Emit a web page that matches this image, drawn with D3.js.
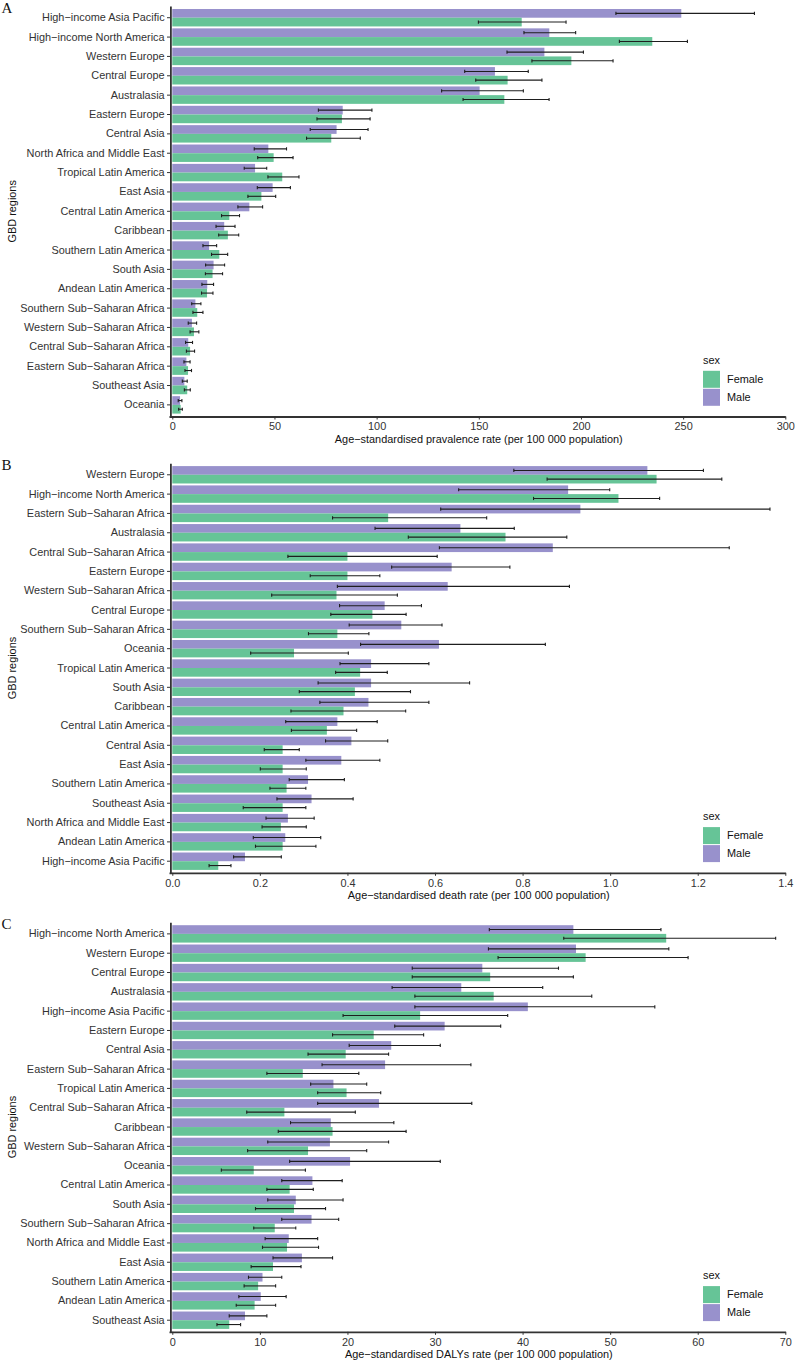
<!DOCTYPE html>
<html><head><meta charset="utf-8">
<script src="https://cdn.jsdelivr.net/npm/d3@7"></script>
<style>
body{margin:0;background:#fff}
svg{display:block;font-family:"Liberation Sans",Arial,Helvetica,sans-serif}
</style>
</head><body>
<svg id="c" width="796" height="1362"></svg>
<script>
const M = "\u2212";
// ---------- Panel A: prevalence ----------
const regionsA = ["High"+M+"income Asia Pacific","High"+M+"income North America","Western Europe","Central Europe","Australasia","Eastern Europe","Central Asia","North Africa and Middle East","Tropical Latin America","East Asia","Central Latin America","Caribbean","Southern Latin America","South Asia","Andean Latin America","Southern Sub"+M+"Saharan Africa","Western Sub"+M+"Saharan Africa","Central Sub"+M+"Saharan Africa","Eastern Sub"+M+"Saharan Africa","Southeast Asia","Oceania"];
// [value, lower, upper]
const maleA = [[249.1,217.1,284.9],[184.5,172.1,197.4],[182.1,163.8,201.2],[157.9,143.1,174.2],[150.4,131.8,171.8],[83.4,71.5,97.7],[80.4,67.5,95.8],[47.0,40.1,55.9],[40.5,35.2,46.2],[49.1,41.6,57.8],[37.7,32.1,44.2],[25.4,21.4,30.7],[18.0,15.0,21.7],[20.2,16.3,25.6],[17.1,14.5,20.2],[11.3,9.5,14.0],[9.6,7.8,11.9],[7.8,6.5,9.9],[6.9,5.7,8.7],[5.9,4.9,7.3],[3.8,2.9,4.7]];
const femaleA = [[171.0,149.8,192.7],[234.9,218.8,252.1],[195.3,176.0,215.7],[164.1,148.5,180.9],[162.5,142.3,184.4],[83.0,70.8,96.8],[77.8,65.7,92.0],[49.6,41.8,59.1],[53.8,46.8,62.0],[43.6,37.0,50.6],[27.9,24.1,32.9],[27.2,22.7,32.5],[23.0,19.2,27.1],[19.7,16.2,24.6],[17.0,14.3,19.9],[12.2,10.1,15.0],[10.6,8.7,13.0],[8.7,6.9,10.9],[7.7,6.2,9.4],[7.3,5.9,8.8],[4.1,3.1,4.9]];
const ticksA = [0,50,100,150,200,250,300];
const titleA = "Age"+M+"standardised pravalence rate (per 100 000 population)";

// ---------- Panel B: deaths ----------
const regionsB = ["Western Europe","High"+M+"income North America","Eastern Sub"+M+"Saharan Africa","Australasia","Central Sub"+M+"Saharan Africa","Eastern Europe","Western Sub"+M+"Saharan Africa","Central Europe","Southern Sub"+M+"Saharan Africa","Oceania","Tropical Latin America","South Asia","Caribbean","Central Latin America","Central Asia","East Asia","Southern Latin America","Southeast Asia","North Africa and Middle East","Andean Latin America","High"+M+"income Asia Pacific"];
const maleB = [[1.085,0.780,1.213],[0.904,0.654,0.999],[0.932,0.613,1.365],[0.658,0.463,0.781],[0.869,0.610,1.272],[0.638,0.501,0.771],[0.629,0.377,0.907],[0.485,0.382,0.569],[0.523,0.404,0.616],[0.609,0.430,0.852],[0.454,0.383,0.586],[0.454,0.333,0.679],[0.448,0.337,0.586],[0.377,0.259,0.468],[0.409,0.350,0.492],[0.386,0.305,0.474],[0.310,0.267,0.393],[0.318,0.239,0.413],[0.264,0.214,0.324],[0.258,0.185,0.339],[0.166,0.140,0.249]];
const femaleB = [[1.106,0.856,1.255],[1.019,0.825,1.113],[0.493,0.366,0.718],[0.761,0.539,0.901],[0.400,0.264,0.605],[0.400,0.315,0.474],[0.375,0.227,0.514],[0.457,0.362,0.534],[0.377,0.311,0.449],[0.278,0.179,0.402],[0.429,0.373,0.491],[0.417,0.290,0.544],[0.391,0.271,0.533],[0.353,0.272,0.421],[0.252,0.210,0.290],[0.252,0.201,0.306],[0.261,0.223,0.305],[0.252,0.162,0.305],[0.248,0.205,0.306],[0.252,0.190,0.328],[0.105,0.084,0.134]];
const ticksB = [0.0,0.2,0.4,0.6,0.8,1.0,1.2,1.4];
const titleB = "Age"+M+"standardised death rate (per 100 000 population)";

// ---------- Panel C: DALYs ----------
const regionsC = ["High"+M+"income North America","Western Europe","Central Europe","Australasia","High"+M+"income Asia Pacific","Eastern Europe","Central Asia","Eastern Sub"+M+"Saharan Africa","Tropical Latin America","Central Sub"+M+"Saharan Africa","Caribbean","Western Sub"+M+"Saharan Africa","Oceania","Central Latin America","South Asia","Southern Sub"+M+"Saharan Africa","North Africa and Middle East","East Asia","Southern Latin America","Andean Latin America","Southeast Asia"];
const maleC = [[45.8,36.2,55.8],[46.1,36.1,56.7],[35.4,27.4,44.1],[33.0,25.1,42.3],[40.6,27.7,55.1],[31.1,25.4,37.5],[25.0,20.2,30.6],[24.3,17.1,34.1],[18.4,15.8,22.2],[23.6,16.6,34.2],[18.1,13.5,25.3],[18.0,10.9,24.7],[20.3,13.4,30.6],[16.0,12.5,19.4],[14.1,10.9,19.5],[15.9,12.5,19.0],[13.3,10.6,16.6],[14.8,11.5,18.3],[10.3,8.7,12.5],[10.1,7.6,13.0],[8.3,6.5,10.8]];
const femaleC = [[56.4,44.7,68.9],[47.2,37.2,58.9],[36.3,27.4,45.8],[36.7,27.7,47.9],[28.3,19.5,38.3],[23.0,18.3,28.7],[19.8,15.5,24.7],[14.9,10.8,21.3],[19.9,16.6,23.8],[12.8,8.5,20.9],[18.3,12.1,26.7],[15.5,8.6,22.2],[9.3,5.6,15.2],[13.4,10.8,16.1],[13.9,9.5,17.5],[11.7,9.3,14.1],[13.1,10.3,16.7],[11.5,9.0,14.7],[9.8,8.2,11.8],[9.4,7.3,11.8],[6.5,5.1,7.8]];
const ticksC = [0,10,20,30,40,50,60,70];
const titleC = "Age"+M+"standardised DALYs rate (per 100 000 population)";

const sexes = ["Male","Female"];
const legendOrder = ["Female","Male"];

// ---------- drawing ----------
const svg = d3.select("#c");
const X0 = 172.3, X1 = 785.3;
const color = d3.scaleOrdinal().domain(["Male","Female"]).range(["#9891CC","#66C497"]);
const FS = "10.9px";

const panels = [
  {letter:"A", regions:regionsA, male:maleA, female:femaleA, ticks:ticksA, domain:[0,300], fmt:d3.format("d"), title:titleA, top:6.1, bottom:416.5},
  {letter:"B", regions:regionsB, male:maleB, female:femaleB, ticks:ticksB, domain:[0,1.4], fmt:d3.format(".1f"), title:titleB, top:463.2, bottom:872.8},
  {letter:"C", regions:regionsC, male:maleC, female:femaleC, ticks:ticksC, domain:[0,70], fmt:d3.format("d"), title:titleC, top:922.3, bottom:1331.8}
];

panels.forEach(cfg => {
  const g = svg.append("g");
  const x = d3.scaleLinear().domain(cfg.domain).range([X0, X1]);
  const y = d3.scaleBand().domain(cfg.regions).range([cfg.top, cfg.bottom]).paddingInner(0.1).paddingOuter(0.15);
  const ys = d3.scaleBand().domain(sexes).range([0, y.bandwidth()]);
  const rows = [];
  cfg.regions.forEach((r,i) => {
    rows.push({r, sex:"Male", v:cfg.male[i]});
    rows.push({r, sex:"Female", v:cfg.female[i]});
  });
  const cy = d => y(d.r) + ys(d.sex) + ys.bandwidth()/2;

  g.append("g").selectAll("rect").data(rows).join("rect")
    .attr("x", x(0)).attr("y", d => y(d.r) + ys(d.sex))
    .attr("width", d => x(d.v[0]) - x(0)).attr("height", ys.bandwidth())
    .attr("fill", d => color(d.sex));

  const eb = g.append("g").attr("stroke", "#1e1e1e").attr("stroke-width", 1.1);
  eb.selectAll("line.h").data(rows).join("line").attr("class","h")
    .attr("x1", d => x(d.v[1])).attr("x2", d => x(d.v[2])).attr("y1", cy).attr("y2", cy);
  eb.selectAll("line.l").data(rows).join("line").attr("class","l")
    .attr("x1", d => x(d.v[1])).attr("x2", d => x(d.v[1])).attr("y1", d => cy(d)-1.6).attr("y2", d => cy(d)+1.6);
  eb.selectAll("line.u").data(rows).join("line").attr("class","u")
    .attr("x1", d => x(d.v[2])).attr("x2", d => x(d.v[2])).attr("y1", d => cy(d)-1.6).attr("y2", d => cy(d)+1.6);

  // y axis
  const ya = g.append("g").attr("transform", `translate(170.4,0)`)
    .call(d3.axisLeft(y).tickSize(3.4).tickSizeOuter(0).tickPadding(2.4));
  // x axis
  const xa = g.append("g").attr("transform", `translate(0,${cfg.bottom})`)
    .call(d3.axisBottom(x).tickValues(cfg.ticks).tickFormat(cfg.fmt).tickSize(3).tickSizeOuter(0).tickPadding(3));
  xa.select(".domain").attr("d", `M169.5,0.5H${X1+0.5}`);
  [ya, xa].forEach(a => {
    a.select(".domain").attr("stroke", "#333").attr("stroke-width", 1.8);
    a.selectAll(".tick line").attr("stroke", "#333").attr("stroke-width", 1);
    a.selectAll(".tick text").attr("fill", "#333").style("font-size", FS).style("font-family", "Liberation Sans, Arial, sans-serif");
  });

  // axis titles
  g.append("text").attr("x", (X0+X1)/2).attr("y", cfg.bottom + 22.5).attr("dy", "0.35em")
    .attr("text-anchor", "middle").style("font-size", FS).attr("fill", "#111").text(cfg.title);
  g.append("text").attr("transform", `translate(11.7,${(cfg.top+cfg.bottom)/2}) rotate(-90)`)
    .attr("dy", "0.35em").attr("text-anchor", "middle").style("font-size", FS).attr("fill", "#111").text("GBD regions");
  // panel letter
  g.append("text").attr("x", 1.5).attr("y", cfg.top + 6.4)
    .style("font-family", "Liberation Serif, Times New Roman, serif").style("font-size", "15px").attr("fill", "#111").text(cfg.letter);

  // legend
  const lg = g.append("g").attr("transform", `translate(703,${cfg.bottom - 56.7})`);
  lg.append("text").attr("x", 0).attr("y", 0).attr("dy", "0.35em").style("font-size", FS).attr("fill", "#111").text("sex");
  const it = lg.selectAll("g.it").data(legendOrder).join("g").attr("class","it")
    .attr("transform", (d,i) => `translate(0,${11 + i*18})`);
  it.append("rect").attr("x", 0).attr("y", 0).attr("width", 17).attr("height", 17).attr("fill", d => color(d));
  it.append("text").attr("x", 24).attr("y", 8.5).attr("dy", "0.35em").style("font-size", FS).attr("fill", "#111").text(d => d);
});
</script>
</body></html>
